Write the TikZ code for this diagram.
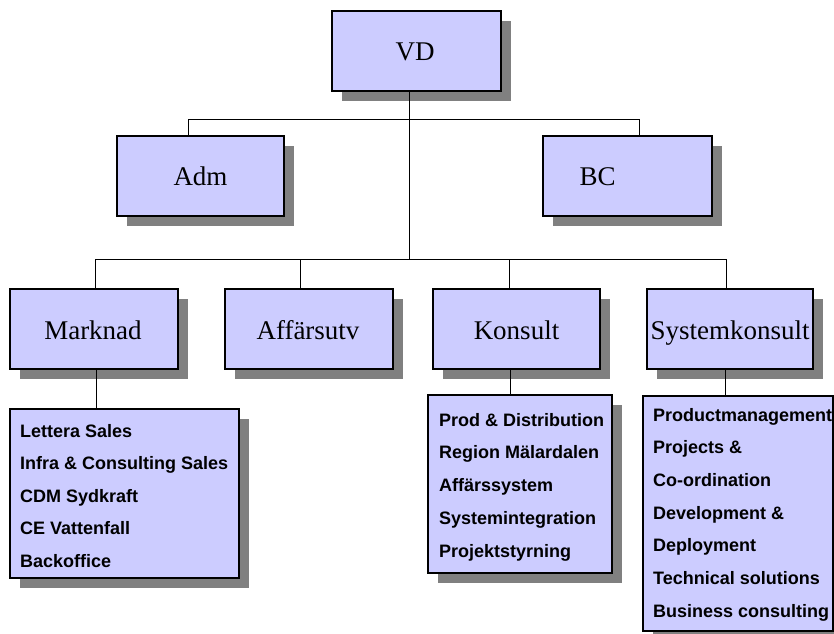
\documentclass[tikz,border=0pt]{standalone}
\usepackage{fontspec}
\setmainfont{Liberation Serif}
\newfontfamily\listfont{Liberation Sans}
\usetikzlibrary{shadows}
\definecolor{boxfill}{RGB}{204,204,255}
\definecolor{shadowgray}{RGB}{128,128,128}
\tikzset{
  unit/.style={draw=black, line width=1.2pt, fill=boxfill,
    drop shadow={shadow xshift=9.5pt, shadow yshift=-9.5pt, fill=shadowgray, opacity=1},
    inner sep=0pt},
  unitlabel/.style={inner sep=0pt, anchor=base, font=\fontsize{27}{27}\selectfont},
  listbox/.style={draw=black, line width=1.2pt, fill=boxfill,
    drop shadow={shadow xshift=9.5pt, shadow yshift=-9.5pt, fill=shadowgray, opacity=1},
    inner sep=0pt},
  item/.style={anchor=base west, inner sep=0pt, font=\listfont\bfseries\fontsize{18}{18}\selectfont},
  link/.style={draw=black, line width=1pt}
}
\begin{document}
\begin{tikzpicture}[x=1pt, y=-1pt]
\useasboundingbox[fill=white] (0,0) rectangle (834,633);

% top level
\node[unit, minimum width=169pt, minimum height=80pt] (vd) at (416.5,51) {};
\node[unitlabel] (vdt) at (415,60) {VD};

% staff units
\node[unit, minimum width=167pt, minimum height=80pt] (adm) at (200.5,176) {};
\node[unitlabel] (admt) at (200.5,185) {Adm};
\node[unit, minimum width=169pt, minimum height=80pt] (bc) at (627.5,176) {};
\node[unitlabel] (bct) at (597.5,185) {BC};

% line units
\node[unit, minimum width=168pt, minimum height=80pt] (mark) at (94,329) {};
\node[unitlabel] (markt) at (93,339) {Marknad};
\node[unit, minimum width=168pt, minimum height=80pt] (aff) at (309,329) {};
\node[unitlabel] (afft) at (308,339) {Affärsutv};
\node[unit, minimum width=167pt, minimum height=80pt] (kons) at (516.5,329) {};
\node[unitlabel] (konst) at (516.5,339) {Konsult};
\node[unit, minimum width=166pt, minimum height=80pt] (sys) at (730,329) {};
\node[unitlabel] (syst) at (730,339) {Systemkonsult};

% sub-unit lists
\node[listbox, minimum width=229pt, minimum height=169pt] (mlist) at (124.5,493.5) {};
\foreach \t [count=\i] in {Lettera Sales, Infra \& Consulting Sales, CDM Sydkraft, CE Vattenfall, Backoffice}
  \node[item] (m\i) at (20,{437+32.5*(\i-1)}) {\t};

\node[listbox, minimum width=184pt, minimum height=178pt] (klist) at (520,484) {};
\foreach \t [count=\i] in {Prod \& Distribution, Region Mälardalen, Affärssystem, Systemintegration, Projektstyrning}
  \node[item] (k\i) at (439,{426+32.75*(\i-1)}) {\t};

\node[listbox, minimum width=190pt, minimum height=235pt] (slist) at (738,513.5) {};
\foreach \t [count=\i] in {Productmanagement, Projects \&, Co-ordination, Development \&, Deployment, Technical solutions, Business consulting}
  \node[item] (s\i) at (653,{421+32.7*(\i-1)}) {\t};

% junction points
\coordinate (tA) at (188,119);
\coordinate (tB) at (639,119);
\coordinate (trunk) at (409,259);
\coordinate (bM) at (95,259);
\coordinate (bA) at (300.7,259);
\coordinate (bK) at (509,259);
\coordinate (bS) at (726,259);
\coordinate (lM) at (96,0);
\coordinate (lK) at (510,0);
\coordinate (lS) at (725,0);

% connectors
\draw[link] (vd.south -| trunk) -- (trunk);
\draw[link] (adm.north -| tA) -- (tA) -- (tB) -- (bc.north -| tB);
\draw[link] (bM) -- (bS);
\draw[link] (bM) -- (mark.north -| bM);
\draw[link] (bA) -- (aff.north -| bA);
\draw[link] (bK) -- (kons.north -| bK);
\draw[link] (bS) -- (sys.north -| bS);
\draw[link] (mark.south -| lM) -- (mlist.north -| lM);
\draw[link] (kons.south -| lK) -- (klist.north -| lK);
\draw[link] (sys.south -| lS) -- (slist.north -| lS);
\end{tikzpicture}
\end{document}
